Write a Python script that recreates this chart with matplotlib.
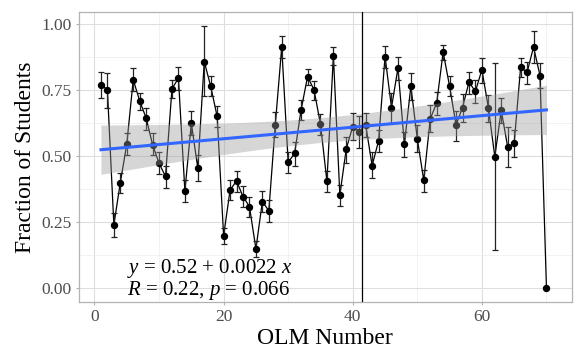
import numpy as np
import matplotlib
matplotlib.use("Agg")
import matplotlib.pyplot as plt

# OLM number and fraction of students
olm = np.arange(1, 71)
frac = [0.769, 0.750, 0.239, 0.399, 0.544, 0.788, 0.708, 0.643, 0.542, 0.472,
        0.422, 0.754, 0.794, 0.367, 0.624, 0.453, 0.857, 0.763, 0.649, 0.197,
        0.371, 0.405, 0.346, 0.308, 0.148, 0.327, 0.292, 0.617, 0.912, 0.475,
        0.510, 0.674, 0.800, 0.750, 0.620, 0.403, 0.879, 0.352, 0.527, 0.611,
        0.592, 0.617, 0.463, 0.557, 0.876, 0.683, 0.832, 0.544, 0.763, 0.564,
        0.407, 0.640, 0.700, 0.893, 0.763, 0.617, 0.683, 0.779, 0.744, 0.826,
        0.683, 0.497, 0.672, 0.533, 0.548, 0.835, 0.816, 0.912, 0.804, 0.000]
err_hi = [0.817, 0.812, 0.283, 0.434, 0.586, 0.832, 0.737, 0.681, 0.586, 0.514,
          0.460, 0.788, 0.835, 0.409, 0.668, 0.504, 0.990, 0.801, 0.687, 0.226,
          0.407, 0.444, 0.384, 0.346, 0.176, 0.367, 0.333, 0.665, 0.952, 0.516,
          0.554, 0.712, 0.830, 0.782, 0.659, 0.441, 0.912, 0.388, 0.573, 0.662,
          0.649, 0.662, 0.514, 0.598, 0.914, 0.737, 0.876, 0.592, 0.813, 0.617,
          0.447, 0.691, 0.741, 0.920, 0.801, 0.670, 0.735, 0.819, 0.788, 0.872,
          0.731, 0.851, 0.718, 0.609, 0.598, 0.872, 0.855, 0.971, 0.851, 0.000]
err_lo = [0.718, 0.681, 0.191, 0.359, 0.504, 0.744, 0.674, 0.598, 0.504, 0.431,
          0.380, 0.718, 0.750, 0.327, 0.580, 0.403, 0.725, 0.725, 0.611, 0.165,
          0.333, 0.365, 0.308, 0.270, 0.119, 0.289, 0.251, 0.573, 0.870, 0.434,
          0.460, 0.636, 0.769, 0.712, 0.580, 0.365, 0.845, 0.312, 0.472, 0.561,
          0.529, 0.573, 0.415, 0.514, 0.832, 0.624, 0.788, 0.497, 0.712, 0.516,
          0.365, 0.592, 0.655, 0.864, 0.725, 0.557, 0.630, 0.735, 0.699, 0.775,
          0.630, 0.144, 0.624, 0.457, 0.495, 0.797, 0.771, 0.851, 0.756, 0.000]
split_at = 41.5
eq_text = r"$y$ = 0.52 + 0.0022 $x$"
r_text = r"$R$ = 0.22, $p$ = 0.066"

plt.rcParams["font.family"] = ["Liberation Serif", "DejaVu Serif"]
plt.rcParams["mathtext.fontset"] = "custom"
plt.rcParams["mathtext.rm"] = "Liberation Serif"
plt.rcParams["mathtext.it"] = "Liberation Serif:italic"

frac = np.array(frac)
yerr = np.vstack([frac - np.array(err_lo), np.array(err_hi) - frac])

fig = plt.figure(figsize=(5.83, 3.6), dpi=100)
ax = fig.add_axes([0.1355, 0.162, 0.845, 0.805])

# points, connecting line, error bars
ax.plot(olm, frac, color="black", lw=0.9, zorder=3)
ax.errorbar(olm, frac, yerr=yerr, fmt="none", ecolor="#222222",
            elinewidth=0.9, capsize=2, capthick=0.9, zorder=3)
ax.plot(olm, frac, "o", color="black", ms=4.3, zorder=4)

# linear fit with 95% confidence band (like geom_smooth(method="lm"))
n = len(olm)
slope, intercept = np.polyfit(olm, frac, 1)
xs = np.linspace(olm.min(), olm.max(), 100)
fit = intercept + slope * xs
resid = frac - (intercept + slope * olm)
s = np.sqrt(np.sum(resid ** 2) / (n - 2))
sxx = np.sum((olm - olm.mean()) ** 2)
se = s * np.sqrt(1 / n + (xs - olm.mean()) ** 2 / sxx)
tval = 1.995
ax.fill_between(xs, fit - tval * se, fit + tval * se, color="#999999",
                alpha=0.4, lw=0, zorder=5)
ax.plot(xs, fit, color="#3366FF", lw=2.2, zorder=6)

ax.axvline(split_at, color="black", lw=0.9, zorder=7)

ax.text(5, 0.056, eq_text, fontsize=15, va="baseline", ha="left", zorder=8)
ax.text(5, -0.027, r_text, fontsize=15, va="baseline", ha="left", zorder=8)

# theme_light look
ax.set_xlim(-2.4, 73.9)
ax.set_ylim(-0.052, 1.045)
ax.set_xticks([0, 20, 40, 60])
ax.set_xticks([10, 30, 50, 70], minor=True)
ax.set_yticks([0, 0.25, 0.5, 0.75, 1.0])
ax.set_yticks([0.125, 0.375, 0.625, 0.875], minor=True)
ax.set_yticklabels(["0.00", "0.25", "0.50", "0.75", "1.00"])
ax.grid(which="major", color="#DEDEDE", lw=0.8, zorder=0)
ax.grid(which="minor", color="#EDEDED", lw=0.5, zorder=0)
ax.set_axisbelow(True)
for sp in ax.spines.values():
    sp.set_color("#B3B3B3")
    sp.set_linewidth(0.9)
ax.tick_params(which="major", length=2.5, width=0.8, color="#B3B3B3",
               labelsize=12.5, labelcolor="#4D4D4D", pad=3)
ax.tick_params(which="minor", length=0)

ax.set_xlabel("OLM Number", fontsize=17, labelpad=2)
ax.set_ylabel("Fraction of Students", fontsize=17, labelpad=4)

fig.savefig("out.png", dpi=100)
